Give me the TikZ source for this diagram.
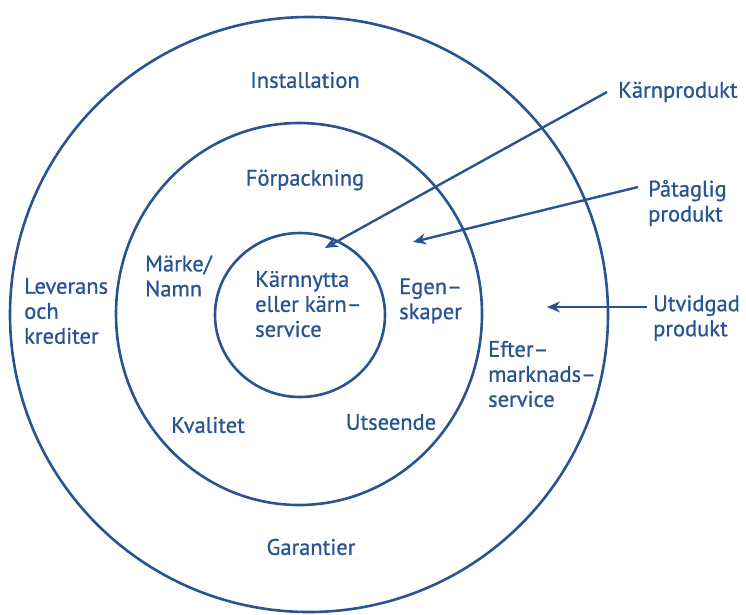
\documentclass[tikz,border=0pt]{standalone}
\usepackage{fontspec}
\setmainfont{PT Sans}
\newfontfamily\ringfont{PT Sans}[FakeBold=0.8]
\usetikzlibrary{arrows.meta}
\definecolor{ringblue}{RGB}{40,84,145}
\tikzset{
    ring/.style = {draw=ringblue, line width=2.6pt},
    ring-label/.style = {text=ringblue, inner sep=0pt, font=\ringfont\fontsize{22.5}{25}\selectfont},
    side-label/.style = {ring-label, align=left, anchor=west},
    pointer/.style = {draw=ringblue, line width=2.4pt, -{Stealth[length=13pt,width=11pt]}},
}

\begin{document}
\begin{tikzpicture}[x=1pt,y=-1pt]
\useasboundingbox (0,0) rectangle (746,614);
\draw[ring] (309,314.5) ellipse [x radius=299, y radius=297.5];
\draw[ring] (299,314) ellipse [x radius=183, y radius=191];
\draw[ring] (300,315) ellipse [x radius=85, y radius=82];
\node[ring-label] (installation) at (305,80) {Installation};
\node[ring-label] (forpackning) at (305,180) {Förpackning};
\node[side-label] (marke) at (145,276) {Märke/\\Namn};
\node[side-label] (leverans) at (24,311) {Leverans\\och\\krediter};
\node[side-label] (karnnytta) at (255,304) {Kärnnytta\\eller kärn–\\service};
\node[side-label] (egenskaper) at (399,301) {Egen–\\skaper};
\node[side-label] (efter) at (488,374) {Efter–\\marknads–\\service};
\node[ring-label] (kvalitet) at (208,425) {Kvalitet};
\node[ring-label] (utseende) at (391,422) {Utseende};
\node[ring-label] (garantier) at (311,547) {Garantier};
\node[side-label] (karnprodukt) at (618,92) {Kärnprodukt};
\node[side-label] (pataglig) at (648,203) {Påtaglig\\produkt};
\node[side-label] (utvidgad) at (653,318) {Utvidgad\\produkt};
\coordinate (karn-tip) at (325,248);
\coordinate (pat-tip) at (413,242);
\coordinate (utv-tip) at (547,307);
\draw[pointer] ([xshift=-11pt]karnprodukt.west) -- (karn-tip);
\draw[pointer] ([xshift=-10pt,yshift=16pt]pataglig.west) -- (pat-tip);
\draw[pointer] ([xshift=-6pt,yshift=11pt]utvidgad.west) -- (utv-tip);
\end{tikzpicture}
\end{document}
